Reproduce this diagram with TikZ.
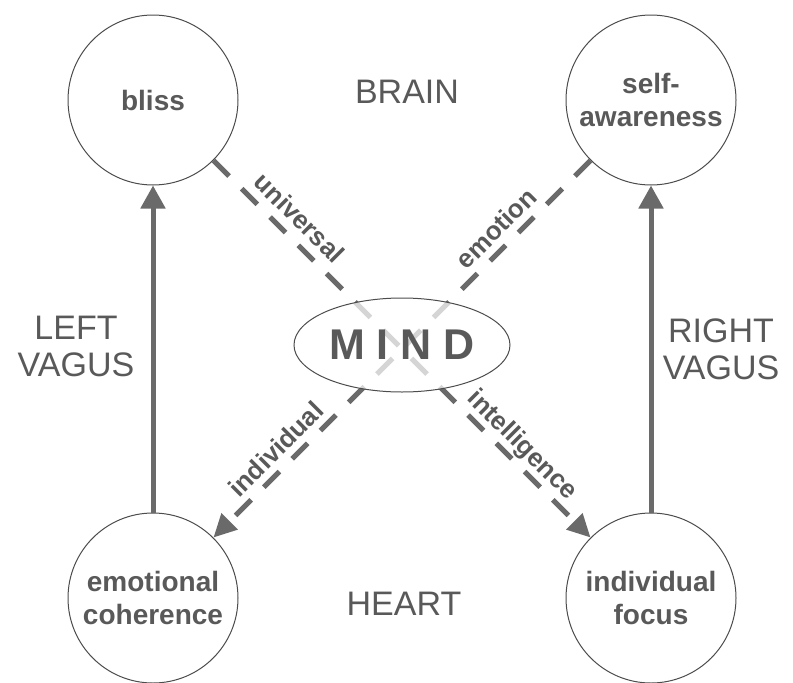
\documentclass[tikz,border=0pt]{standalone}
\usepackage{fontspec}
\setmainfont{Liberation Sans}
\usepackage{tikz}
\usetikzlibrary{shapes.geometric, arrows.meta}
\usepackage{xcolor}
\definecolor{ink}{HTML}{595959}
\definecolor{wire}{HTML}{6A6A6A}
\tikzstyle{organ} = [circle, draw=black!70, line width=1pt, minimum size=170pt,
inner sep=0pt, align=center, text=ink, font=\fontsize{28}{33}\selectfont\bfseries]
\tikzstyle{region} = [text=ink, align=center, font=\fontsize{34}{37}\selectfont]
\tikzstyle{mind} = [ellipse, draw=black!70, line width=1pt, minimum width=216pt,
minimum height=94pt, fill=white, fill opacity=0.72, text opacity=1, text=ink,
font=\fontsize{43}{43}\selectfont\bfseries]
\tikzstyle{flow} = [draw=wire, line width=5pt, dash pattern=on 22pt off 18pt,
-{Triangle[length=23pt,width=22pt]}]
\tikzstyle{nerve} = [draw=wire, line width=5pt, -{Triangle[length=23pt,width=24pt]}]
\tikzstyle{tag} = [sloped, text=ink, inner sep=0pt, font=\fontsize{26}{30}\selectfont\bfseries]

\begin{document}
\begin{tikzpicture}[x=1pt, y=-1pt, node distance=498pt]
  \useasboundingbox (0,0) rectangle (793,683);
  % The four centres
  \node (bliss) [organ] at (153,100) {bliss};
  \node (aware) [organ, right of=bliss] {self-\\awareness};
  \node (coherence) [organ, below of=bliss] {emotional\\coherence};
  \node (focus) [organ, right of=coherence] {individual\\focus};
  % Region labels
  \node (brain) [region] at (407,92) {BRAIN};
  \node (heart) [region] at (404,604) {HEART};
  \node (lvagus) [region] at (76,346) {LEFT\\VAGUS};
  \node (rvagus) [region] at (721,349) {RIGHT\\VAGUS};
  % Connections
  \draw [nerve] (coherence) -- (bliss);
  \draw [nerve] (focus) -- (aware);
  \draw [flow] (bliss) -- (focus)
    node[tag, pos=0.19, above=8.5pt] {universal}
    node[tag, pos=0.787, above=1.5pt] {intelligence};
  \draw [flow] (aware) -- (coherence)
    node[tag, pos=0.215, above=7pt] {emotion}
    node[tag, pos=0.80, above=6.5pt] {individual};
  % Centre
  \node (mindnode) [mind] at (402,345) {M I N D};
\end{tikzpicture}
\end{document}
